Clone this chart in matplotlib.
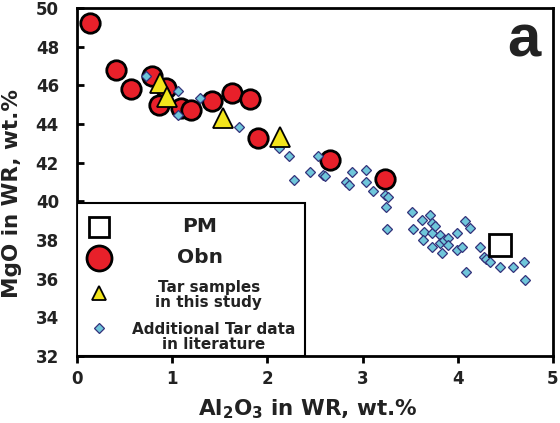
"""MgO vs Al2O3 in whole rock: Obn, Tar samples, literature data and PM."""
import matplotlib
matplotlib.use("Agg")
import matplotlib.pyplot as plt
from matplotlib.patches import Rectangle

plt.rcParams["font.family"] = ["DejaVu Sans"]
plt.rcParams["font.weight"] = "bold"
plt.rcParams["mathtext.fontset"] = "custom"
plt.rcParams["mathtext.rm"] = "DejaVu Sans:bold"
plt.rcParams["mathtext.default"] = "rm"

# primitive mantle
pm_al = [4.44]
pm_mg = [37.74]

# Obn samples
obn_al = [0.14, 0.41, 0.57, 0.79, 0.94, 0.86, 1.09, 1.20, 1.42, 1.63, 1.82, 1.90, 2.66, 3.24]
obn_mg = [49.2, 46.78, 45.82, 46.5, 45.85, 44.97, 44.85, 44.72, 45.17, 45.62, 45.3, 43.28, 42.15, 41.15]

# Tar samples, this study
tar_al = [0.87, 0.95, 1.53, 2.13]
tar_mg = [46.1, 45.4, 44.3, 43.35]

# additional Tar data from literature
lit_al = [0.72, 1.06, 1.29, 1.06, 1.70, 2.12, 2.23, 2.28, 2.45, 2.53, 2.58, 2.61,
          2.83, 2.86, 2.89, 3.04, 3.04, 3.11, 3.24, 3.27, 3.25, 3.26, 3.52, 3.53,
          3.62, 3.64, 3.63, 3.71, 3.73, 3.73, 3.73, 3.76, 3.81, 3.81, 3.83, 3.86,
          3.90, 3.90, 3.99, 3.99, 4.04, 4.08, 4.13, 4.09, 4.23, 4.28, 4.30, 4.34,
          4.44, 4.58, 4.70, 4.71]
lit_mg = [46.5, 45.72, 45.36, 44.45, 43.84, 42.75, 42.37, 41.10, 41.52, 42.33, 41.38, 41.30,
          41.01, 40.86, 41.53, 41.62, 41.01, 40.55, 40.33, 40.20, 39.70, 38.57, 39.43, 38.56,
          39.03, 38.43, 38.00, 39.29, 38.90, 38.34, 37.65, 38.70, 38.26, 37.83, 37.35, 38.0,
          38.10, 37.74, 38.38, 37.48, 37.65, 39.00, 38.60, 36.33, 37.65, 37.14, 37.0, 36.85,
          36.58, 36.58, 36.86, 35.91]

RED = "#e8202a"
YELLOW = "#f2e41c"
BLUE = "#6fc6da"
NAVY = "#33317a"
INK = "#222222"

fig = plt.figure(figsize=(5.6, 4.23), dpi=100)
ax = fig.add_axes([0.1375, 0.1584, 0.85, 0.8227])

ax.plot(obn_al, obn_mg, "o", ms=14, mfc=RED, mec="black", mew=2, zorder=3)
ax.plot(lit_al, lit_mg, "D", ms=5.6, mfc=BLUE, mec=NAVY, mew=0.9, zorder=4)
ax.plot(tar_al, tar_mg, "^", ms=14, mfc=YELLOW, mec="black", mew=1.3, zorder=5)
ax.plot(pm_al, pm_mg, "s", ms=16, mfc="white", mec="black", mew=2, zorder=6)

ax.set_xlim(0, 5)
ax.set_ylim(32, 50)
ax.set_xticks(range(0, 6))
ax.set_yticks(range(32, 51, 2))
for s in ax.spines.values():
    s.set_linewidth(2)
ax.tick_params(axis="x", direction="out", length=5, width=2, labelsize=12,
               pad=5, labelcolor=INK)
ax.tick_params(axis="y", direction="in", length=5, width=2, labelsize=12,
               pad=13, labelcolor=INK)

ax.set_xlabel("Al$_2$O$_3$ in WR, wt.%", fontsize=15.5, fontweight="bold", color=INK)
ax.set_ylabel("MgO in WR, wt.%", fontsize=15.5, fontweight="bold", color=INK)
ax.xaxis.set_label_coords(0.485, -0.118)
ax.yaxis.set_label_coords(-0.1155, 0.468)

ax.text(0.938, 0.905, "a", transform=ax.transAxes, fontsize=43,
        family="Liberation Sans", fontweight="bold", ha="center", va="center",
        color=INK)

# hand-made legend box
ax.add_patch(Rectangle((0, 0), 0.479, 0.4397, transform=ax.transAxes,
                       fc="white", ec="black", lw=1.5, zorder=10))
kx = 0.046
ax.plot([kx], [0.371], "s", ms=14.5, mfc="white", mec="black", mew=2,
        transform=ax.transAxes, zorder=11, clip_on=False)
ax.plot([kx], [0.2816], "o", ms=18, mfc=RED, mec="black", mew=2,
        transform=ax.transAxes, zorder=11, clip_on=False)
ax.plot([kx], [0.181], "^", ms=10.5, mfc=YELLOW, mec="black", mew=1.3,
        transform=ax.transAxes, zorder=11, clip_on=False)
ax.plot([kx], [0.0805], "D", ms=5.5, mfc=BLUE, mec=NAVY, mew=0.9,
        transform=ax.transAxes, zorder=11, clip_on=False)

tk = dict(transform=ax.transAxes, ha="center", va="center", fontweight="bold",
          color=INK, zorder=12, linespacing=1.05)
ax.text(0.258, 0.371, "PM", fontsize=14.5, **tk)
ax.text(0.258, 0.2816, "Obn", fontsize=14.5, **tk)
ax.text(0.277, 0.175, "Tar samples\nin this study", fontsize=11, **tk)
ax.text(0.288, 0.055, "Additional Tar data\nin literature", fontsize=11, **tk)

fig.savefig("out.png", dpi=100)
plt.close(fig)
